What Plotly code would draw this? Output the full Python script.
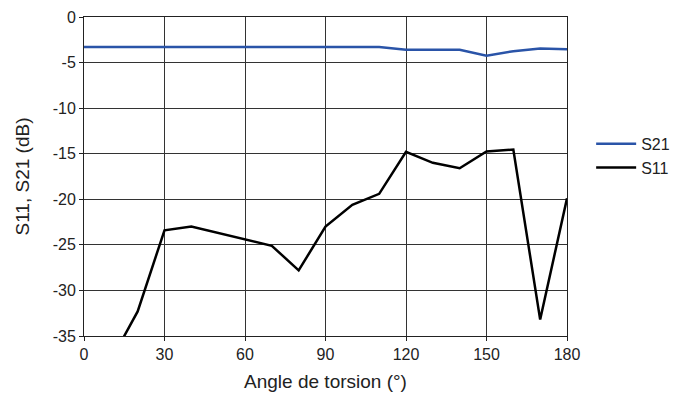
import plotly.graph_objects as go

angles = [0, 10, 20, 30, 40, 50, 60, 70, 80, 90, 100, 110, 120, 130, 140, 150, 160, 170, 180]
s21 = [-3.3, -3.3, -3.3, -3.35, -3.35, -3.35, -3.35, -3.3, -3.3, -3.3, -3.35, -3.3, -3.6, -3.6, -3.6, -4.25, -3.75, -3.45, -3.55]
s11 = [-40.0, -37.7, -32.3, -23.4, -23.0, -23.7, -24.4, -25.1, -27.8, -23.0, -20.6, -19.4, -14.8, -16.0, -16.6, -14.75, -14.55, -33.2, -19.9]
x_ticks = [0, 30, 60, 90, 120, 150, 180]
y_ticks = [0, -5, -10, -15, -20, -25, -30, -35]
y_tick_labels = ["0", "-5", "-10", "-15", "-20", "-25", "-30", "-35"]

font = "Liberation Sans, Arial, sans-serif"

fig = go.Figure()
fig.add_trace(go.Scatter(x=angles, y=s21, mode="lines", name="S21",
                         line=dict(color="#2a54a8", width=2.5)))
fig.add_trace(go.Scatter(x=angles, y=s11, mode="lines", name="S11",
                         line=dict(color="#000000", width=2.5)))

fig.update_layout(
    width=675, height=388,
    margin=dict(l=76, r=116, t=9, b=60, autoexpand=False),
    plot_bgcolor="white", paper_bgcolor="white",
    font=dict(family=font, size=16, color="#222"),
    legend=dict(x=1.05, y=0.565, xanchor="left", yanchor="middle",
                font=dict(size=16), tracegroupgap=0, itemwidth=40,
                bgcolor="rgba(0,0,0,0)"),
    showlegend=True,
)
fig.update_xaxes(range=[0, 180], tickvals=x_ticks, showgrid=True,
                 gridcolor="#333", gridwidth=1, showline=True, linecolor="#222",
                 linewidth=1, mirror=True, ticks="outside", ticklen=4,
                 tickcolor="#222", zeroline=False,
                 title=dict(text="Angle de torsion (°)", standoff=12))
fig.update_yaxes(range=[-35, 0], tickvals=y_ticks, ticktext=y_tick_labels,
                 showgrid=True,
                 gridcolor="#333", gridwidth=1, showline=True, linecolor="#222",
                 linewidth=1, mirror=True, ticks="outside", ticklen=4,
                 tickcolor="#222", zeroline=False,
                 title=dict(text="S11, S21 (dB)", standoff=18))

fig.write_html("out.html")
